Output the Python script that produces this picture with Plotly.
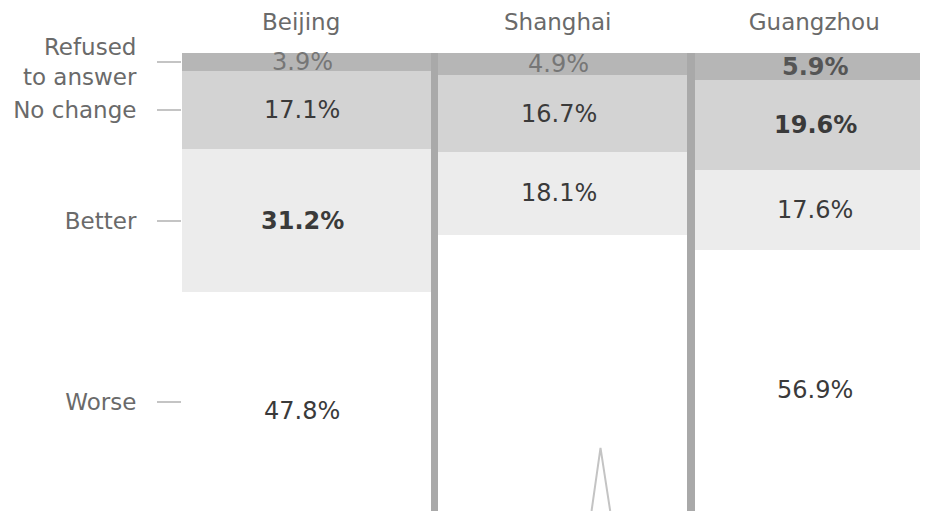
import plotly.graph_objects as go

# ---- data ----
cities = ["Beijing", "Shanghai", "Guangzhou"]
categories = ["Refused to answer", "No change", "Better", "Worse"]
category_ticktext = ["Refused<br>to answer", "No change", "Better", "Worse"]
refused = [3.9, 4.9, 5.9]
no_change = [17.1, 16.7, 19.6]
better = [31.2, 18.1, 17.6]
worse = [47.8, 60.3, 56.9]
hidden_labels = {("Shanghai", "Worse")}

series = [refused, no_change, better, worse]
colors = ["#b6b6b6", "#d3d3d3", "#ececec", "#ffffff"]
FONT = "DejaVu Sans"

x = list(range(len(cities)))
fig = go.Figure()
for name, vals, col in zip(categories, series, colors):
    fig.add_trace(go.Bar(
        x=x, y=vals, name=name, width=0.97,
        marker=dict(color=col, line=dict(width=0)),
        hoverinfo="skip",
    ))

# value labels
for i, city in enumerate(cities):
    base = 0.0
    for j, (name, vals) in enumerate(zip(categories, series)):
        v = vals[i]
        mid = base + v / 2
        base += v
        if (city, name) in hidden_labels:
            continue
        is_max = v == max(vals)
        text = f"{v:.1f}%"
        if is_max:
            text = f"<b>{text}</b>"
        if j == 0:
            color = "#555555" if is_max else "#767676"
        else:
            color = "#3a3a3a"
        fig.add_annotation(
            x=i, y=mid, xref="x", yref="y", text=text, showarrow=False,
            xshift=-4, yshift=(-9 if j == 3 else 0),
            font=dict(family=FONT, size=24, color=color),
        )

# y ticks at Beijing's segment midpoints
tick_pos = []
acc = 0.0
for vals in series:
    tick_pos.append(acc + vals[0] / 2)
    acc += vals[0]

# decorative triangle outline at bottom of Shanghai column
fig.add_shape(
    type="path", xref="paper", yref="paper",
    path="M 0.549,0 L 0.561,0.138 L 0.574,0",
    line=dict(color="#c4c4c4", width=2),
)

fig.update_layout(
    width=920, height=503,
    margin=dict(l=174, r=0, t=45, b=0),
    barmode="stack", bargap=0, showlegend=False,
    plot_bgcolor="#a9a9a9", paper_bgcolor="#ffffff",
    xaxis=dict(
        range=[-0.484, 2.424], side="top", tickvals=x, ticktext=cities,
        ticks="", showgrid=False, zeroline=False, showline=False,
        ticklabelstandoff=17, ticklabelshift=-5,
        tickfont=dict(family=FONT, size=23, color="#6a6a6a"),
    ),
    yaxis=dict(
        range=[100, 0], tickvals=tick_pos, ticktext=category_ticktext,
        ticks="outside", ticklen=24, tickwidth=1.5, tickcolor="#c4c4c4",
        showgrid=False, zeroline=False, showline=False,
        ticklabelstandoff=16,
        tickfont=dict(family=FONT, size=23, color="#6a6a6a"),
    ),
)

fig.write_html("out.html")
